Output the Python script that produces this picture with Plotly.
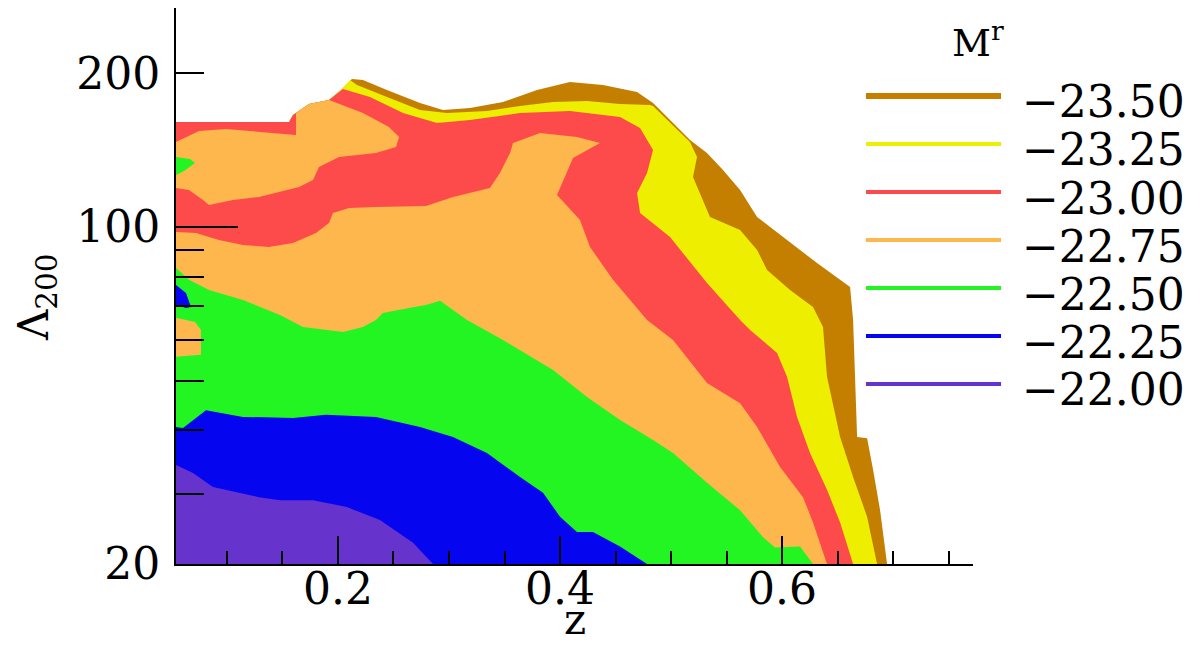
import math
import plotly.graph_objects as go

# ---------------- axis extents (data units) ----------------
Z_MIN, Z_MAX = 0.0541, 0.772
LAM_MIN, LAM_MAX = 21.9, 268.3

# ---------------- contour levels / colours ----------------
levels = [-23.50, -23.25, -23.00, -22.75, -22.50, -22.25, -22.00]
level_colors = ["#c47f00", "#eeee00", "#fd4b4b", "#fdb74c", "#22f522", "#0505f0", "#6633cc"]

# ---------------- tick values / labels ----------------
xtick_vals = [0.2, 0.4, 0.6]
xtick_text = ["0.2", "0.4", "0.6"]
xminor_vals = [0.10, 0.15, 0.25, 0.30, 0.35, 0.45, 0.50, 0.55, 0.65, 0.70, 0.75]
ytick_vals = [LAM_MIN, 100, 200]
ytick_text = ["20", "100", "200"]
yminor_vals = [30, 40, 50, 60, 70, 80, 90]

# ---------------- contour region boundaries (z, Lambda_200) ----------------
# outer data envelope (M_r <= -23.50 band and everything fainter)
brown_z = [0.0541, 0.1559, 0.1595, 0.1739, 0.1919, 0.2045, 0.2126, 0.2225, 0.2441, 0.2739,
           0.2946, 0.3189, 0.3486, 0.3793, 0.4090, 0.4387, 0.4694, 0.4838, 0.5171, 0.5324,
           0.5468, 0.5622, 0.5775, 0.6009, 0.6315, 0.6613, 0.6640, 0.6676, 0.6766, 0.6820,
           0.6883, 0.6946]
brown_lam = [160.5, 160.5, 165.6, 174.0, 177.2, 187.1, 194.8, 194.0, 185.4, 174.8,
             169.4, 171.0, 175.6, 185.4, 192.2, 189.6, 183.7, 174.8, 148.0, 139.6,
             129.3, 118.1, 104.6, 95.6, 85.0, 76.3, 65.8, 38.8, 38.6, 33.5,
             27.9, 21.9]

yellow_z = [0.0541, 0.1559, 0.1595, 0.1739, 0.1919, 0.2045, 0.2108, 0.2171, 0.2441, 0.2739,
            0.2982, 0.3342, 0.3640, 0.3937, 0.4243, 0.4541, 0.4811, 0.4838, 0.5171, 0.5234,
            0.5198, 0.5351, 0.5622, 0.5775, 0.5865, 0.6072, 0.6279, 0.6369, 0.6405, 0.6523,
            0.6640, 0.6766, 0.6856]
yellow_lam = [160.5, 160.5, 165.6, 174.0, 177.2, 187.1, 194.0, 189.6, 179.7, 169.4,
              167.1, 168.7, 172.5, 175.6, 176.4, 174.0, 173.3, 172.5, 146.7, 137.1,
              125.3, 104.6, 98.7, 90.2, 82.4, 75.3, 69.7, 63.7, 50.9, 38.8,
              32.4, 27.1, 21.9]

red_z = [0.0541, 0.1559, 0.1595, 0.1739, 0.1919, 0.2045, 0.2288, 0.2586, 0.2892, 0.3189,
         0.3640, 0.4090, 0.4541, 0.4721, 0.4838, 0.4784, 0.4694, 0.4721, 0.4991, 0.5324,
         0.5622, 0.5712, 0.5955, 0.6045, 0.6135, 0.6252, 0.6405, 0.6523, 0.6640]
red_lam = [160.5, 160.5, 165.6, 174.0, 177.2, 186.2, 179.7, 167.1, 159.8, 161.9,
           167.1, 168.7, 164.2, 156.2, 141.5, 127.5, 116.6, 106.5, 95.6, 77.7,
           65.8, 62.9, 56.7, 50.9, 42.5, 36.1, 30.6, 26.4, 21.9]

orange_top_z = [0.0541, 0.0631, 0.0748, 0.0991, 0.1288, 0.1622, 0.1622, 0.1739, 0.1919, 0.2225,
                0.2459, 0.2550, 0.2523, 0.2342, 0.2009, 0.1955, 0.1829, 0.1775, 0.1649, 0.1288,
                0.1054, 0.0838, 0.0784, 0.0658, 0.0541]
orange_top_lam = [146.7, 150.0, 154.1, 155.5, 153.4, 151.4, 167.1, 174.0, 177.2, 167.1,
                  156.9, 150.0, 143.4, 139.6, 137.1, 135.2, 131.0, 123.6, 119.7, 114.5,
                  112.9, 110.4, 112.9, 118.1, 119.2]

orange_z = [0.0541, 0.0721, 0.0928, 0.1144, 0.1378, 0.1595, 0.1802, 0.1919, 0.1955, 0.2099,
            0.2342, 0.2640, 0.2793, 0.3036, 0.3369, 0.3459, 0.3550, 0.3577, 0.3820, 0.4153,
            0.4360, 0.4117, 0.4063, 0.3973, 0.4180, 0.4270, 0.4477, 0.4784, 0.5018, 0.5324,
            0.5622, 0.5775, 0.5982, 0.6189, 0.6279, 0.6405]
orange_lam = [97.8, 97.3, 94.3, 92.2, 91.4, 93.0, 97.3, 101.8, 106.5, 108.9,
              109.4, 109.9, 109.9, 114.5, 119.2, 127.5, 139.6, 146.0, 152.8, 150.0,
              146.0, 136.5, 128.1, 115.5, 103.2, 91.4, 78.8, 65.8, 60.1, 49.5,
              45.2, 40.6, 33.9, 29.6, 26.4, 21.9]

green_isl_z = [0.0541, 0.0667, 0.0712, 0.0613, 0.0541]
green_isl_lam = [137.1, 135.9, 133.4, 128.7, 126.4]

green_z = [0.0541, 0.0658, 0.0838, 0.1144, 0.1477, 0.1685, 0.2045, 0.2225, 0.2342, 0.2405,
           0.2640, 0.2793, 0.2919, 0.3162, 0.3486, 0.3937, 0.4243, 0.4541, 0.4838, 0.5018,
           0.5324, 0.5622, 0.5829, 0.5937, 0.6162, 0.6279]
green_lam = [83.1, 78.8, 75.3, 72.0, 67.3, 63.7, 62.3, 63.7, 65.8, 67.9,
             69.4, 70.4, 71.7, 65.8, 60.1, 52.5, 46.5, 41.9, 38.3, 36.1,
             31.6, 27.9, 24.7, 23.6, 23.7, 21.9]

orange_isl_z = [0.0541, 0.0712, 0.0766, 0.0766, 0.0541]
orange_isl_lam = [66.4, 65.2, 62.9, 56.2, 55.7]

blue_isl_z = [0.0541, 0.0631, 0.0676, 0.0631, 0.0541]
blue_isl_lam = [77.0, 74.3, 69.7, 69.4, 70.4]

blue_z = [0.0541, 0.0604, 0.0811, 0.1144, 0.1595, 0.1892, 0.2342, 0.2739, 0.3036, 0.3342,
          0.3640, 0.3847, 0.4000, 0.4153, 0.4297, 0.4541, 0.4784]
blue_lam = [40.6, 40.4, 43.8, 42.5, 42.3, 42.9, 42.5, 40.6, 38.8, 36.1,
            32.4, 30.2, 27.1, 25.3, 25.3, 23.7, 21.9]

purple_z = [0.0541, 0.0694, 0.0874, 0.1288, 0.1477, 0.1775, 0.2081, 0.2378, 0.2676, 0.2856]
purple_lam = [34.2, 33.0, 31.0, 29.6, 29.2, 29.2, 28.3, 26.7, 24.1, 21.9]

# (level index, z, Lambda, close through lower-left corner) in painting order
regions = [
    (0, brown_z, brown_lam, True),
    (1, yellow_z, yellow_lam, True),
    (2, red_z, red_lam, True),
    (3, orange_top_z, orange_top_lam, False),
    (3, orange_z, orange_lam, True),
    (4, green_isl_z, green_isl_lam, False),
    (4, green_z, green_lam, True),
    (3, orange_isl_z, orange_isl_lam, False),
    (5, blue_isl_z, blue_isl_lam, False),
    (5, blue_z, blue_lam, True),
    (6, purple_z, purple_lam, True),
]

fig = go.Figure()
for idx, zs, ls, corner in regions:
    xs, ys = list(zs), list(ls)
    if corner:
        xs.append(Z_MIN)
        ys.append(LAM_MIN)
    fig.add_trace(go.Scatter(
        x=xs, y=ys, mode="lines", fill="toself",
        fillcolor=level_colors[idx],
        line=dict(width=0, color=level_colors[idx]),
        hoverinfo="skip", showlegend=False,
    ))

# ---------------- layout ----------------
W, H = 1204, 645
ML, MR, MT, MB = 176, 231, 8, 81
PW, PH = W - ML - MR, H - MT - MB
FONT = "DejaVu Serif"


def px(xp):
    return (xp - ML) / PW


def py(yp):
    return (MT + PH - yp) / PH


ylog0, ylog1 = math.log10(LAM_MIN), math.log10(LAM_MAX)

fig.update_layout(
    width=W, height=H,
    margin=dict(l=ML, r=MR, t=MT, b=MB, pad=0),
    paper_bgcolor="white", plot_bgcolor="white",
    showlegend=False,
    font=dict(family=FONT, size=44, color="black"),
)
fig.update_xaxes(
    range=[Z_MIN, Z_MAX], showgrid=False, zeroline=False,
    showline=True, linecolor="black", linewidth=2,
    tickmode="array", tickvals=xtick_vals, ticktext=xtick_text,
    ticks="inside", ticklen=28, tickwidth=2, tickcolor="black",
    ticklabelstandoff=-15,
    minor=dict(tickmode="array", tickvals=xminor_vals, ticks="inside",
               ticklen=13, tickwidth=2, tickcolor="black", showgrid=False),
    tickfont=dict(family=FONT, size=44, color="black"),
)
fig.update_yaxes(
    type="log", range=[ylog0, ylog1], showgrid=False, zeroline=False,
    showline=True, linecolor="black", linewidth=2,
    tickmode="array", tickvals=ytick_vals, ticktext=ytick_text,
    ticks="inside", ticklen=28, tickwidth=2, tickcolor="black",
    ticklabelstandoff=5,
    minor=dict(tickmode="array", tickvals=yminor_vals, ticks="inside",
               ticklen=28, tickwidth=2, tickcolor="black", showgrid=False),
    tickfont=dict(family=FONT, size=44, color="black"),
)

shapes = []
# longer tick at 100
y100 = (2 - ylog0) / (ylog1 - ylog0)
shapes.append(dict(type="line", xref="paper", yref="paper", x0=0, x1=px(238),
                   y0=y100, y1=y100, line=dict(color="black", width=2), layer="above"))

annotations = []
# axis titles
annotations.append(dict(text="z", xref="paper", yref="paper", x=px(575), y=py(619),
                        xanchor="center", yanchor="middle", showarrow=False,
                        font=dict(family=FONT, size=42, color="black")))
annotations.append(dict(text="Λ<sub>200</sub>", xref="paper", yref="paper", x=px(36), y=py(298),
                        xanchor="center", yanchor="middle", textangle=-90, showarrow=False,
                        font=dict(family=FONT, size=42, color="black")))
# manual legend
annotations.append(dict(text="M<sup>r</sup>", xref="paper", yref="paper", x=px(978), y=py(40),
                        xanchor="center", yanchor="middle", showarrow=False,
                        font=dict(family=FONT, size=38, color="black")))
for i, (lev, col) in enumerate(zip(levels, level_colors)):
    ly = 96 + 48 * i
    shapes.append(dict(type="line", xref="paper", yref="paper",
                       x0=px(866), x1=px(1001), y0=py(ly), y1=py(ly),
                       line=dict(color=col, width=6 if i == 0 else 4)))
    annotations.append(dict(text="\u2212%.2f" % abs(lev), xref="paper", yref="paper",
                            x=px(1020), y=py(ly + 6), xanchor="left", yanchor="middle",
                            showarrow=False, font=dict(family=FONT, size=44, color="black")))

fig.update_layout(shapes=shapes, annotations=annotations)

fig.write_html("out.html", config={"displayModeBar": False},
               post_script="document.body.style.margin='0';")
